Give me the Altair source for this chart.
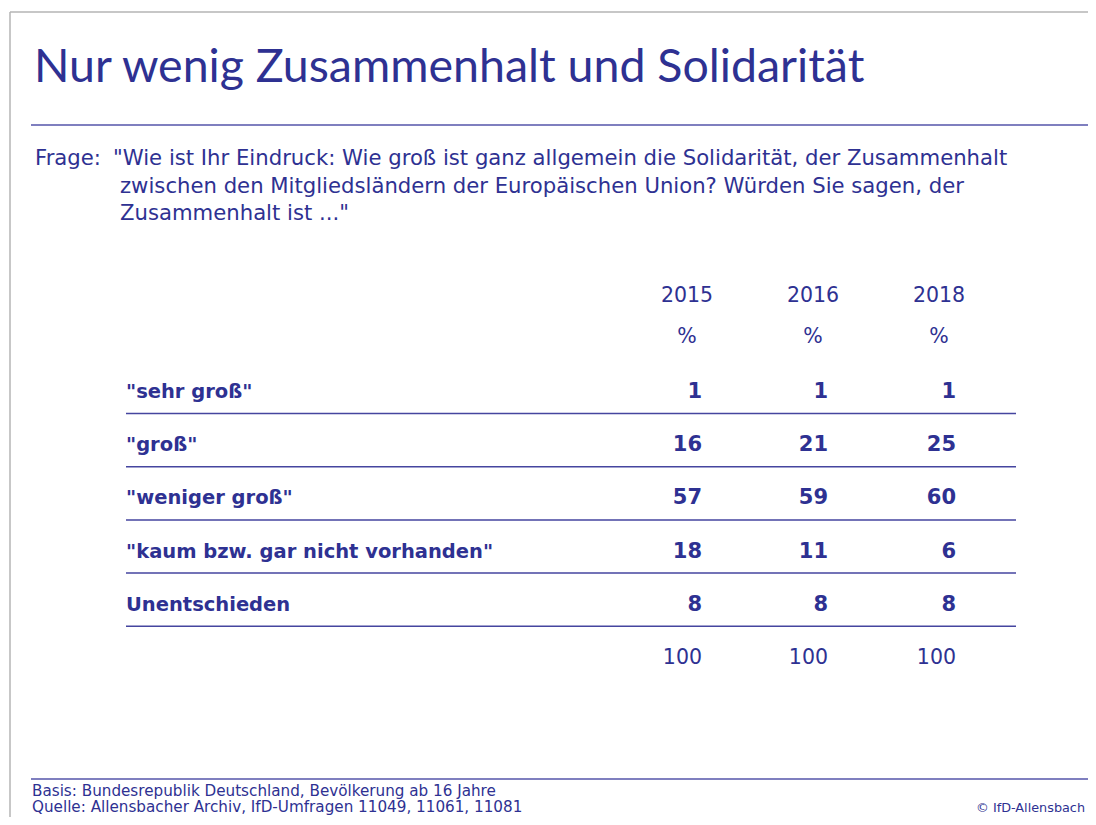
import altair as alt
import pandas as pd

# ---------------- data ----------------
title = "Nur wenig Zusammenhalt und Solidarität"
question_label = "Frage:"
question_lines = [
    '"Wie ist Ihr Eindruck: Wie groß ist ganz allgemein die Solidarität, der Zusammenhalt',
    'zwischen den Mitgliedsländern der Europäischen Union? Würden Sie sagen, der',
    'Zusammenhalt ist ..."',
]
years = ["2015", "2016", "2018"]
unit = "%"
answers = ['"sehr groß"', '"groß"', '"weniger groß"',
           '"kaum bzw. gar nicht vorhanden"', 'Unentschieden']
v2015 = [1, 16, 57, 18, 8]
v2016 = [1, 21, 59, 11, 8]
v2018 = [1, 25, 60, 6, 8]
totals = [100, 100, 100]
footer_lines = [
    "Basis: Bundesrepublik Deutschland, Bevölkerung ab 16 Jahre",
    "Quelle: Allensbacher Archiv, IfD-Umfragen 11049, 11061, 11081",
]
copyright_note = "© IfD-Allensbach"

# ---------------- layout ----------------
W, H = 1080, 809
TITLE_FONT = "Lato"
FONT = "DejaVu Sans"
BLUE = "#2e3192"
RULE_LIGHT = "#7f7fbf"
RULE_TABLE = "#45459f"
FRAME = "#b5b5b5"

XS = alt.Scale(domain=[0, W], range=[0, W], nice=False, zero=False)
YS = alt.Scale(domain=[0, H], range=[0, H], nice=False, zero=False)

col_header_x = [679, 805, 931]
col_value_x = [694, 820, 948]
label_x = 118
row_y0 = 390
row_step = 53.2


def text_layer(df, size, weight="normal", align="left", font=FONT, color=BLUE):
    return alt.Chart(df).mark_text(
        align=align, baseline="alphabetic", fontSize=size,
        fontWeight=weight, font=font, color=color
    ).encode(
        x=alt.X("x:Q", scale=XS, axis=None),
        y=alt.Y("y:Q", scale=YS, axis=None),
        text="t:N",
    )


def rule_layer(df, color, width):
    return alt.Chart(df).mark_rule(color=color, strokeWidth=width).encode(
        x=alt.X("x:Q", scale=XS, axis=None),
        x2="x2:Q",
        y=alt.Y("y:Q", scale=YS, axis=None),
        y2="y2:Q",
    )


# frame
frame_df = pd.DataFrame({"x": [2, 2], "x2": [W, 2], "y": [4, 4], "y2": [4, H]})
# title & footer rules
light_df = pd.DataFrame({"x": [23, 23], "x2": [W, W], "y": [117, 771], "y2": [117, 771]})
# table rules (below each answer row)
tab_y = [row_y0 + i * row_step + 15.5 for i in range(len(answers))]
table_rule_df = pd.DataFrame({"x": [label_x] * len(answers), "x2": [1008] * len(answers),
                              "y": tab_y, "y2": tab_y})

title_df = pd.DataFrame({"x": [26], "y": [74], "t": [title]})
q_label_df = pd.DataFrame({"x": [27], "y": [157], "t": [question_label]})
q_df = pd.DataFrame({"x": [105, 112, 112], "y": [157, 185, 212], "t": question_lines})

hdr_df = pd.DataFrame({"x": col_header_x, "y": [294] * 3, "t": years})
unit_df = pd.DataFrame({"x": col_header_x, "y": [335] * 3, "t": [unit] * 3})

label_df = pd.DataFrame({"x": [label_x] * len(answers),
                         "y": [row_y0 + i * row_step for i in range(len(answers))],
                         "t": answers})
vals = []
for ci, series in enumerate([v2015, v2016, v2018]):
    for ri, v in enumerate(series):
        vals.append({"x": col_value_x[ci], "y": row_y0 + ri * row_step, "t": str(v)})
val_df = pd.DataFrame(vals)
tot_df = pd.DataFrame({"x": col_value_x, "y": [row_y0 + len(answers) * row_step] * 3,
                       "t": [str(t) for t in totals]})

foot_df = pd.DataFrame({"x": [24, 24], "y": [788, 804], "t": footer_lines})
copy_df = pd.DataFrame({"x": [1077], "y": [804], "t": [copyright_note]})

chart = alt.layer(
    rule_layer(frame_df, FRAME, 1.5),
    rule_layer(light_df, RULE_LIGHT, 2),
    rule_layer(table_rule_df, RULE_TABLE, 1.5),
    text_layer(title_df, 46.5, font=TITLE_FONT),
    text_layer(q_label_df, 21.2),
    text_layer(q_df, 21.2),
    text_layer(hdr_df, 20.5, align="center"),
    text_layer(unit_df, 20.5, align="center"),
    text_layer(label_df, 19.5, weight="bold"),
    text_layer(val_df, 21, weight="bold", align="right"),
    text_layer(tot_df, 20.5, align="right"),
    text_layer(foot_df, 15.2),
    text_layer(copy_df, 12.8, align="right"),
).properties(
    width=W, height=H, padding=0,
    autosize=alt.AutoSizeParams(type="fit", contains="padding"),
    background="white",
).configure_view(stroke=None)

chart.save("out.html", embed_options={"renderer": "svg", "actions": False})
